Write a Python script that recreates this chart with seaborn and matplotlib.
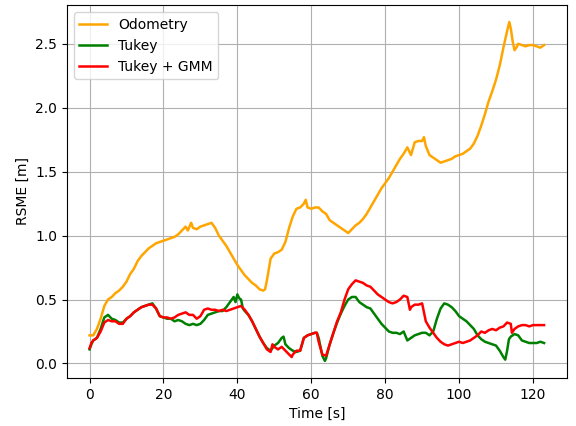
import numpy as np
import pandas as pd
import matplotlib
matplotlib.use("Agg")
import matplotlib.pyplot as plt
import seaborn as sns

# Odometry
odo_t = [0, 1, 2, 3, 4, 5, 6, 7, 8, 9, 10, 11, 12, 13, 14, 15, 16, 17, 18, 19, 20,
         21, 22, 23, 24, 25, 26, 26.6, 27.5, 28, 29, 30, 31, 32, 33, 34, 35, 36, 37,
         38, 39, 40, 41, 42, 43, 44, 45, 46, 47, 47.5, 48, 49, 50, 51, 52, 53, 54,
         55, 56, 57, 58, 58.5, 59, 60, 61, 62, 63, 64, 65, 66, 67, 68, 69, 70, 71,
         72, 73, 74, 75, 76, 77, 78, 79, 80, 81, 82, 83, 84, 85, 86, 87, 88, 89, 90,
         90.5, 91, 92, 93, 94, 95, 96, 97, 98, 99, 100, 101, 102, 103, 104, 105, 106,
         107, 108, 109, 110, 111, 112, 113, 113.6, 114, 114.5, 115, 115.5, 116, 117,
         118, 119, 120, 121, 122, 123]
odo_v = [0.22, 0.22, 0.27, 0.35, 0.45, 0.5, 0.52, 0.55, 0.57, 0.6, 0.64, 0.7, 0.74,
         0.8, 0.84, 0.87, 0.9, 0.92, 0.94, 0.95, 0.96, 0.97, 0.98, 0.99, 1.01, 1.04,
         1.07, 1.04, 1.1, 1.06, 1.05, 1.07, 1.08, 1.09, 1.1, 1.06, 1.0, 0.96, 0.92,
         0.87, 0.82, 0.77, 0.73, 0.69, 0.66, 0.63, 0.61, 0.58, 0.57, 0.58, 0.65, 0.82,
         0.86, 0.87, 0.89, 0.95, 1.06, 1.15, 1.21, 1.22, 1.25, 1.28, 1.22, 1.21, 1.22,
         1.22, 1.19, 1.17, 1.12, 1.1, 1.08, 1.06, 1.04, 1.02, 1.05, 1.08, 1.1, 1.13,
         1.17, 1.22, 1.27, 1.32, 1.37, 1.41, 1.45, 1.5, 1.55, 1.6, 1.64, 1.69, 1.63,
         1.73, 1.74, 1.74, 1.77, 1.7, 1.63, 1.61, 1.59, 1.57, 1.58, 1.59, 1.6, 1.62,
         1.63, 1.64, 1.66, 1.68, 1.72, 1.78, 1.86, 1.95, 2.05, 2.13, 2.22, 2.33, 2.47,
         2.6, 2.67, 2.62, 2.52, 2.45, 2.47, 2.5, 2.49, 2.48, 2.49, 2.49, 2.48, 2.47,
         2.49]

# Tukey
tuk_t = [0, 0.5, 1, 2, 3, 4, 5, 6, 7, 8, 9, 10, 11, 12, 13, 14, 15, 16, 17, 18, 19,
         20, 21, 22, 23, 24, 25, 26, 27, 28, 29, 30, 31, 32, 33, 34, 35, 36, 37, 38,
         39, 39.5, 40, 40.5, 41, 41.5, 42, 43, 44, 45, 46, 47, 48, 49, 50, 51, 52,
         52.5, 53, 54, 55, 56, 57, 58, 59, 60, 61, 61.5, 62, 63, 63.7, 64, 65, 66, 67,
         68, 69, 70, 71, 72, 73, 74, 75, 76, 77, 78, 79, 80, 81, 82, 83, 84, 85, 86,
         87, 88, 89, 90, 91, 92, 93, 94, 95, 96, 97, 98, 99, 100, 101, 102, 103, 104,
         105, 106, 107, 108, 109, 110, 111, 112, 112.5, 113, 113.5, 114, 115, 116,
         117, 118, 119, 120, 121, 122, 123]
tuk_v = [0.11, 0.15, 0.18, 0.2, 0.27, 0.36, 0.38, 0.35, 0.34, 0.32, 0.32, 0.35, 0.37,
         0.4, 0.42, 0.44, 0.45, 0.46, 0.47, 0.43, 0.37, 0.36, 0.35, 0.35, 0.33, 0.34,
         0.33, 0.31, 0.3, 0.31, 0.3, 0.31, 0.34, 0.38, 0.39, 0.4, 0.41, 0.41, 0.44,
         0.48, 0.52, 0.48, 0.54, 0.51, 0.5, 0.43, 0.41, 0.38, 0.33, 0.27, 0.21, 0.16,
         0.12, 0.1, 0.14, 0.16, 0.2, 0.21, 0.15, 0.12, 0.1, 0.09, 0.1, 0.2, 0.22, 0.23,
         0.24, 0.24, 0.2, 0.06, 0.02, 0.04, 0.15, 0.24, 0.32, 0.39, 0.45, 0.5, 0.52,
         0.52, 0.48, 0.46, 0.44, 0.43, 0.39, 0.35, 0.31, 0.28, 0.25, 0.24, 0.24, 0.23,
         0.25, 0.18, 0.2, 0.22, 0.23, 0.24, 0.24, 0.22, 0.25, 0.35, 0.43, 0.47, 0.46,
         0.44, 0.41, 0.37, 0.35, 0.33, 0.3, 0.27, 0.22, 0.19, 0.17, 0.16, 0.15, 0.14,
         0.1, 0.05, 0.03, 0.1, 0.19, 0.21, 0.23, 0.22, 0.18, 0.17, 0.16, 0.16, 0.16,
         0.17, 0.16]

# Tukey + GMM
gmm_t = [0, 0.5, 1, 2, 3, 4, 5, 6, 7, 8, 9, 10, 11, 12, 13, 14, 15, 16, 17, 18, 19,
         20, 21, 22, 23, 24, 25, 26, 27, 28, 29, 30, 31, 32, 33, 34, 35, 36, 37, 38,
         39, 40, 41, 42, 43, 44, 45, 46, 47, 48, 49, 49.5, 50, 51, 52, 53, 54, 54.7,
         55, 56, 57, 58, 59, 60, 61, 61.5, 62, 63, 64, 65, 66, 67, 68, 69, 70, 71, 72,
         73, 74, 75, 76, 77, 78, 79, 80, 81, 82, 83, 84, 85, 86, 86.7, 87, 88, 89, 90,
         91, 92, 93, 94, 95, 96, 97, 98, 99, 100, 101, 102, 103, 104, 105, 106, 107,
         108, 109, 110, 111, 112, 113, 114, 114.3, 115, 116, 117, 118, 119, 120, 121,
         122, 123]
gmm_v = [0.12, 0.16, 0.18, 0.2, 0.25, 0.32, 0.34, 0.33, 0.33, 0.31, 0.31, 0.35, 0.37,
         0.4, 0.42, 0.44, 0.45, 0.46, 0.46, 0.43, 0.37, 0.36, 0.36, 0.35, 0.36, 0.38,
         0.39, 0.4, 0.38, 0.38, 0.35, 0.37, 0.42, 0.43, 0.42, 0.42, 0.41, 0.42, 0.41,
         0.42, 0.43, 0.44, 0.45, 0.42, 0.38, 0.33, 0.27, 0.21, 0.16, 0.11, 0.09, 0.15,
         0.13, 0.11, 0.13, 0.1, 0.07, 0.05, 0.07, 0.1, 0.1, 0.2, 0.22, 0.23, 0.24, 0.24,
         0.17, 0.07, 0.06, 0.15, 0.24, 0.33, 0.4, 0.5, 0.58, 0.62, 0.65, 0.64, 0.63,
         0.61, 0.6, 0.57, 0.54, 0.52, 0.5, 0.48, 0.47, 0.48, 0.5, 0.53, 0.52, 0.42,
         0.44, 0.46, 0.46, 0.47, 0.33, 0.28, 0.24, 0.2, 0.17, 0.15, 0.14, 0.15, 0.16,
         0.17, 0.16, 0.17, 0.18, 0.2, 0.22, 0.25, 0.24, 0.26, 0.27, 0.26, 0.28, 0.29,
         0.32, 0.31, 0.24, 0.27, 0.29, 0.3, 0.3, 0.29, 0.3, 0.3, 0.3, 0.3]

series = [("Odometry", odo_t, odo_v, "orange"),
          ("Tukey", tuk_t, tuk_v, "green"),
          ("Tukey + GMM", gmm_t, gmm_v, "red")]

plt.rcParams['font.family'] = ['DejaVu Sans']
fig = plt.figure(figsize=(5.76, 4.26), dpi=100)
ax = fig.add_axes([0.116, 0.113, 0.868, 0.875])

for name, t, v, c in series:
    df = pd.DataFrame({"t": t, "v": v})
    sns.lineplot(data=df, x="t", y="v", ax=ax, color=c, label=name, linewidth=1.8)

ax.grid(True, color="#b0b0b0", linewidth=0.8)
ax.set_xlabel("Time [s]")
ax.set_ylabel("RSME [m]")
ax.set_xticks([0, 20, 40, 60, 80, 100, 120])
ax.set_yticks([0.0, 0.5, 1.0, 1.5, 2.0, 2.5])
ax.legend(loc="upper left")

fig.savefig("out.png", dpi=100)
